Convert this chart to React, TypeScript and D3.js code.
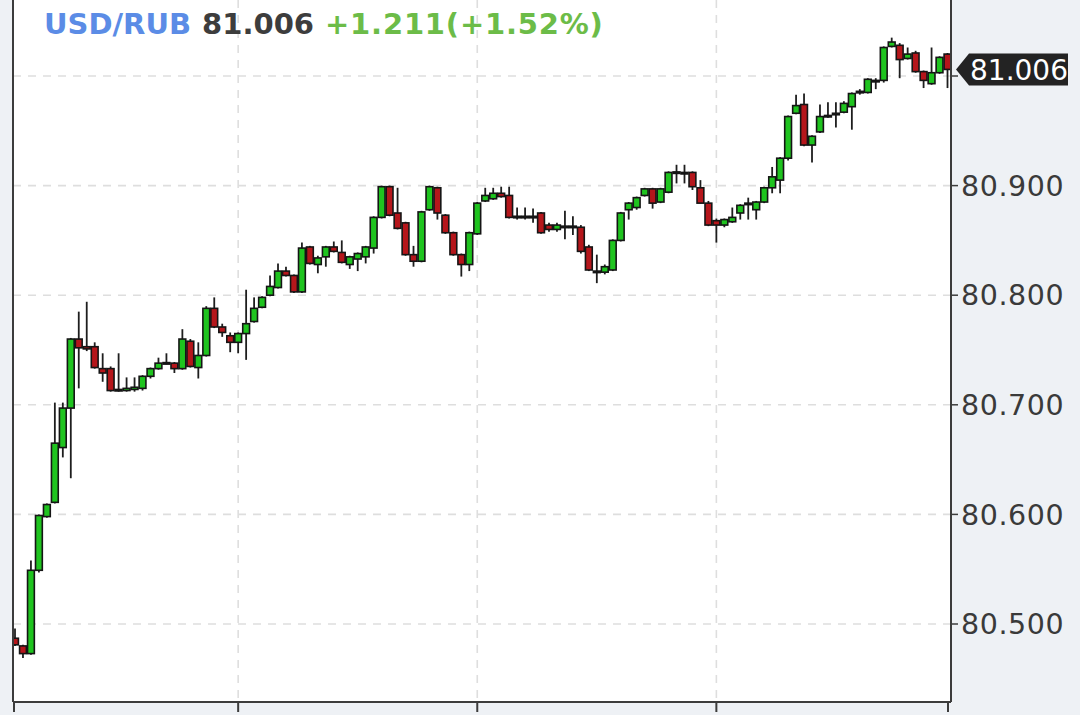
import React from "react";
import * as d3 from "d3";

// ---- data ----
const opens = [
  80.487, 80.480, 80.473, 80.549, 80.598, 80.611, 80.661, 80.697, 80.760, 80.753,
  80.753, 80.733, 80.733, 80.714, 80.713, 80.714, 80.715, 80.726, 80.733, 80.738,
  80.738, 80.733, 80.758, 80.734, 80.745, 80.788, 80.771, 80.763, 80.757, 80.765,
  80.776, 80.789, 80.800, 80.807, 80.822, 80.818, 80.803, 80.844, 80.828, 80.835,
  80.844, 80.839, 80.828, 80.833, 80.835, 80.843, 80.871, 80.899, 80.875, 80.866,
  80.837, 80.831, 80.878, 80.898, 80.873, 80.857, 80.837, 80.828, 80.856, 80.886,
  80.888, 80.893, 80.891, 80.872, 80.872, 80.872, 80.875, 80.864, 80.860, 80.863,
  80.863, 80.862, 80.844, 80.822, 80.821, 80.823, 80.850, 80.878, 80.880, 80.891,
  80.897, 80.885, 80.894, 80.912, 80.912, 80.912, 80.898, 80.884, 80.868, 80.864,
  80.867, 80.875, 80.884, 80.878, 80.885, 80.898, 80.905, 80.925, 80.966, 80.974,
  80.937, 80.949, 80.964, 80.966, 80.967, 80.972, 80.986, 80.985, 80.996, 80.996,
  81.027, 81.028, 81.016, 81.021, 81.004, 80.993, 81.003, 81.020,
];
const highs = [
  80.496, 80.481, 80.558, 80.600, 80.610, 80.702, 80.702, 80.761, 80.785, 80.794,
  80.757, 80.747, 80.735, 80.747, 80.725, 80.725, 80.727, 80.734, 80.743, 80.747,
  80.739, 80.769, 80.760, 80.757, 80.790, 80.798, 80.774, 80.766, 80.766, 80.805,
  80.798, 80.799, 80.818, 80.829, 80.826, 80.819, 80.848, 80.845, 80.836, 80.845,
  80.849, 80.850, 80.836, 80.839, 80.845, 80.872, 80.900, 80.900, 80.898, 80.867,
  80.845, 80.877, 80.900, 80.899, 80.874, 80.858, 80.838, 80.858, 80.885, 80.898,
  80.898, 80.899, 80.899, 80.880, 80.880, 80.879, 80.876, 80.866, 80.866, 80.877,
  80.872, 80.864, 80.846, 80.837, 80.828, 80.851, 80.876, 80.885, 80.890, 80.898,
  80.898, 80.898, 80.913, 80.919, 80.919, 80.913, 80.905, 80.886, 80.870, 80.870,
  80.880, 80.883, 80.889, 80.886, 80.899, 80.917, 80.926, 80.964, 80.983, 80.984,
  80.946, 80.974, 80.976, 80.976, 80.977, 80.985, 80.988, 80.998, 80.998, 81.027,
  81.035, 81.030, 81.026, 81.023, 81.005, 81.026, 81.018, 81.021,
];
const lows = [
  80.480, 80.469, 80.472, 80.547, 80.597, 80.610, 80.652, 80.633, 80.715, 80.749,
  80.733, 80.721, 80.712, 80.712, 80.712, 80.712, 80.713, 80.724, 80.732, 80.737,
  80.729, 80.732, 80.734, 80.724, 80.744, 80.770, 80.762, 80.748, 80.747, 80.741,
  80.775, 80.788, 80.799, 80.806, 80.817, 80.802, 80.802, 80.828, 80.820, 80.826,
  80.839, 80.829, 80.824, 80.822, 80.829, 80.838, 80.870, 80.872, 80.860, 80.836,
  80.826, 80.830, 80.877, 80.869, 80.856, 80.836, 80.817, 80.822, 80.855, 80.885,
  80.887, 80.889, 80.870, 80.869, 80.869, 80.866, 80.856, 80.858, 80.858, 80.851,
  80.855, 80.838, 80.822, 80.811, 80.819, 80.822, 80.849, 80.869, 80.878, 80.890,
  80.879, 80.884, 80.893, 80.902, 80.902, 80.896, 80.884, 80.863, 80.848, 80.862,
  80.866, 80.869, 80.869, 80.869, 80.884, 80.893, 80.893, 80.923, 80.965, 80.936,
  80.921, 80.948, 80.962, 80.953, 80.966, 80.951, 80.983, 80.984, 80.988, 80.994,
  81.026, 80.998, 81.015, 81.003, 80.989, 80.992, 81.002, 80.989,
];
const closes = [
  80.481, 80.473, 80.549, 80.599, 80.609, 80.665, 80.697, 80.760, 80.752, 80.751,
  80.734, 80.729, 80.713, 80.713, 80.715, 80.716, 80.726, 80.733, 80.738, 80.7385,
  80.733, 80.760, 80.735, 80.745, 80.788, 80.771, 80.766, 80.757, 80.765, 80.774,
  80.788, 80.798, 80.808, 80.822, 80.818, 80.803, 80.843, 80.829, 80.834, 80.844,
  80.840, 80.830, 80.835, 80.838, 80.844, 80.871, 80.899, 80.873, 80.861, 80.837,
  80.831, 80.876, 80.899, 80.875, 80.857, 80.837, 80.828, 80.857, 80.884, 80.891,
  80.893, 80.890, 80.871, 80.871, 80.871, 80.871, 80.857, 80.860, 80.864, 80.862,
  80.862, 80.840, 80.823, 80.821, 80.826, 80.850, 80.875, 80.884, 80.889, 80.897,
  80.884, 80.897, 80.912, 80.9125, 80.9115, 80.899, 80.884, 80.864, 80.864, 80.869,
  80.871, 80.882, 80.883, 80.885, 80.898, 80.908, 80.925, 80.963, 80.973, 80.937,
  80.945, 80.963, 80.964, 80.966, 80.975, 80.984, 80.986, 80.997, 80.996, 81.026,
  81.031, 81.015, 81.020, 81.004, 80.996, 81.003, 81.017, 81.006,
];

const yGridValues = [80.5, 80.6, 80.7, 80.8, 80.9, 81.0];
const yLabelValues = [80.5, 80.6, 80.7, 80.8, 80.9];
const xGridIndex = [28, 58, 88];

const symbol = "USD/RUB";
const lastPrice = "81.006";
const change = "+1.211(+1.52%)";

const W = 1080;
const H = 715;
const plot = { left: 13, right: 951, top: 0, bottom: 702 };

export default function App() {
  const n = opens.length;
  const x = d3.scaleLinear().domain([0, n - 1]).range([15, 947.5]);
  const y = d3.scaleLinear().domain([80.5, 81.0]).range([624, 76]);
  const bodyW = 6.8;
  const green = "#1fc41f";
  const red = "#b5161b";
  const last = closes[n - 1];
  const ly = y(last);

  const edgeTicks = [plot.left + 1, ...xGridIndex.map((i) => x(i)), plot.right - 3];

  return (
    <svg
      width={W}
      height={H}
      style={{ position: "absolute", left: 0, top: 0, display: "block" }}
      fontFamily="'DejaVu Sans', sans-serif"
    >
      <rect x={0} y={0} width={W} height={H} fill="#eef1f5" />
      <rect
        x={plot.left}
        y={plot.top}
        width={plot.right - plot.left}
        height={plot.bottom - plot.top}
        fill="#ffffff"
      />
      <defs>
        <clipPath id="plotclip">
          <rect x={plot.left + 1} y={plot.top} width={plot.right - plot.left - 2} height={plot.bottom - plot.top} />
        </clipPath>
      </defs>

      {/* grid */}
      {yGridValues.map((v) => (
        <line
          key={"gy" + v}
          x1={plot.left}
          x2={plot.right}
          y1={y(v)}
          y2={y(v)}
          stroke="#dedede"
          strokeWidth={1.6}
          strokeDasharray="8,7"
        />
      ))}
      {xGridIndex.map((i) => (
        <line
          key={"gx" + i}
          x1={x(i)}
          x2={x(i)}
          y1={plot.top}
          y2={plot.bottom}
          stroke="#dedede"
          strokeWidth={1.6}
          strokeDasharray="8,7"
        />
      ))}

      {/* candles */}
      <g clipPath="url(#plotclip)">
        {opens.map((o, i) => {
          const c = closes[i];
          const up = c >= o;
          const top = y(Math.max(o, c));
          const bot = y(Math.min(o, c));
          const h = Math.max(bot - top, 1.5);
          return (
            <g key={i}>
              <line
                x1={x(i)}
                x2={x(i)}
                y1={y(highs[i])}
                y2={y(lows[i])}
                stroke="#1e1e1e"
                strokeWidth={1.8}
              />
              <rect
                x={x(i) - bodyW / 2}
                y={top}
                width={bodyW}
                height={h}
                fill={up ? green : red}
                stroke="#151515"
                strokeWidth={1.6}
              />
            </g>
          );
        })}
      </g>

      {/* borders */}
      <line x1={plot.left} x2={plot.left} y1={0} y2={plot.bottom} stroke="#3c3c3c" strokeWidth={2} />
      <line x1={plot.right} x2={plot.right} y1={0} y2={plot.bottom} stroke="#3c3c3c" strokeWidth={2} />
      <line x1={plot.left} x2={plot.right} y1={plot.bottom} y2={plot.bottom} stroke="#3c3c3c" strokeWidth={2} />
      {edgeTicks.map((t, k) => (
        <line key={"xt" + k} x1={t} x2={t} y1={plot.bottom} y2={plot.bottom + 10} stroke="#3c3c3c" strokeWidth={2} />
      ))}

      {/* y axis labels */}
      {yGridValues.map((v) => (
        <line key={"yt" + v} x1={plot.right} x2={plot.right + 7} y1={y(v)} y2={y(v)} stroke="#3c3c3c" strokeWidth={1.5} />
      ))}
      {yLabelValues.map((v) => (
        <text
          key={"yl" + v}
          x={plot.right + 10}
          y={y(v)}
          dy="0.36em"
          fontSize={28.5}
          fill="#3a3a3a"
          letterSpacing={0.6}
        >
          {d3.format(".3f")(v)}
        </text>
      ))}

      {/* last price tag */}
      <path
        d={`M${plot.right + 5},${ly} L${plot.right + 18},${ly - 16} L${W - 12},${ly - 16} L${W - 12},${ly + 16} L${plot.right + 18},${ly + 16} Z`}
        fill="#232323"
      />
      <text x={plot.right + 19} y={ly} dy="0.36em" fontSize={28} fill="#ffffff">
        {lastPrice}
      </text>

      {/* header */}
      <text x={44} y={34} fontSize={29} fontWeight="bold">
        <tspan fill="#5b8ce6">{symbol}</tspan>
        <tspan fill="#3d3d3d" dx={11}>{lastPrice}</tspan>
        <tspan fill="#6cbc48" dx={11} letterSpacing={0.8}>{change}</tspan>
      </text>
    </svg>
  );
}
